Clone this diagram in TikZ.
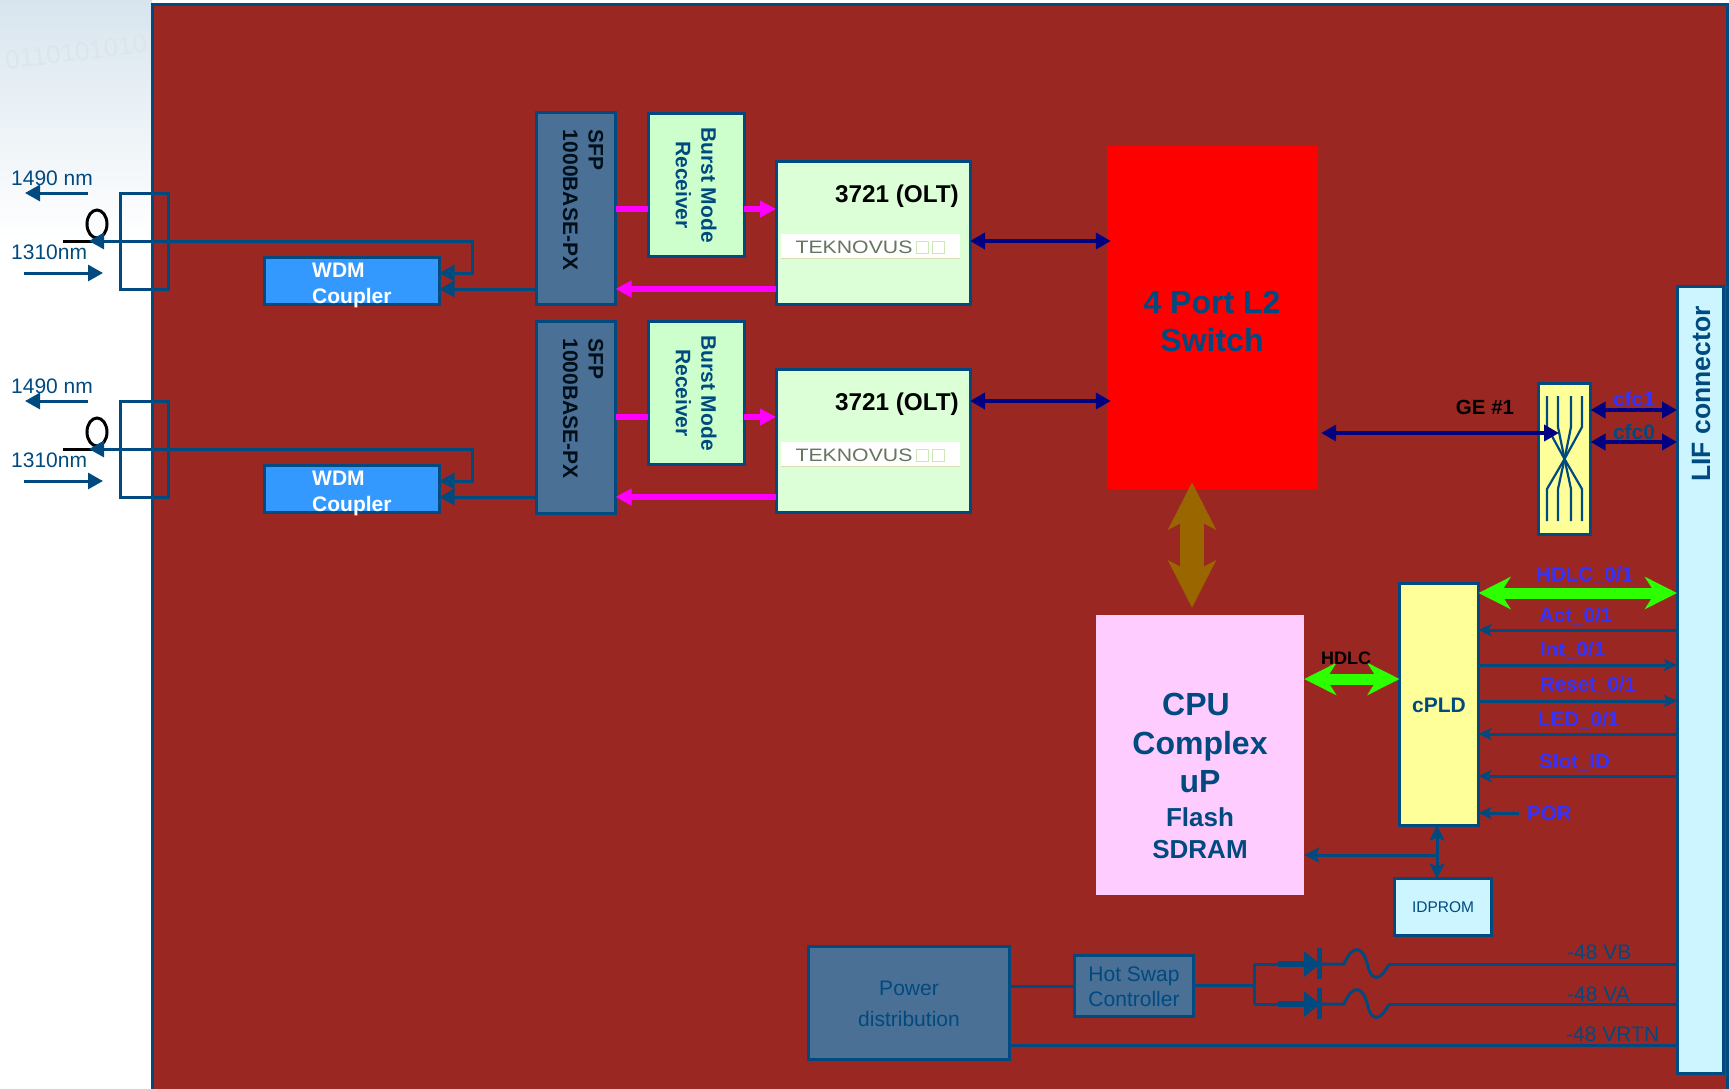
\documentclass[tikz,border=0pt]{standalone}
\usepackage{fontspec}
\setmainfont{Liberation Sans}
\usetikzlibrary{arrows.meta,positioning,shapes}
\definecolor{linkblue}{HTML}{004A80}
\definecolor{boardred}{HTML}{9B2723}
\definecolor{sfpblue}{HTML}{4A7095}
\definecolor{wdmblue}{HTML}{3399FF}
\definecolor{burstgreen}{HTML}{CCFFCC}
\definecolor{oltgreen}{HTML}{DDFFD8}
\definecolor{lifcyan}{HTML}{CCF5FF}
\definecolor{cpldyellow}{HTML}{FFFF99}
\definecolor{cpupink}{HTML}{FFCCFF}
\definecolor{hdlcgreen}{HTML}{2EFF00}
\definecolor{sigblue}{HTML}{3333FF}
\definecolor{busbrown}{HTML}{996600}
\definecolor{busnavy}{HTML}{000080}
\definecolor{pinkbus}{HTML}{FF00FF}
\definecolor{mistblue}{HTML}{D8E5EE}
\definecolor{mistpale}{HTML}{F4F8FC}
\definecolor{bitgrey}{HTML}{DDE5EC}
\definecolor{logogrey}{HTML}{66755F}
\definecolor{logobox}{HTML}{CDE8B8}
\definecolor{logotan}{HTML}{DDD9B0}
\tikzset{
	block/.style = {draw = linkblue, line width = 3pt, inner sep = 0pt, align = center, outer sep = 0pt},
	plain text/.style = {inner sep = 0pt, font = \fontsize{21}{25}\selectfont, text = linkblue, align = center},
	bold text/.style = {inner sep = 0pt, font = \bfseries\fontsize{21}{25.5}\selectfont, text = linkblue, align = center},
	signal label/.style = {bold text, font = \bfseries\fontsize{20.5}{25}\selectfont, text = sigblue, anchor = west},
	wire/.style = {draw = linkblue, line width = 3pt},
	wire tip/.style = {wire, -{Stealth[length = 13pt, width = 12pt, inset = 3pt]}},
	post tip/.style = {wire, -{Stealth[length = 15pt, width = 15pt, inset = 3pt]}},
	fibre tip/.style = {wire, -{Triangle[length = 15pt, width = 16pt]}},
	fibre tips/.style = {wire, {Triangle[length = 15pt, width = 16pt]}-{Triangle[length = 15pt, width = 16pt]}},
	pink bus/.style = {draw = pinkbus, line width = 5.5pt, -{Triangle[length = 16pt, width = 16pt]}},
	navy bus/.style = {draw = busnavy, line width = 4pt, {Triangle[length = 15pt, width = 16pt]}-{Triangle[length = 15pt, width = 16pt]}},
	green bus/.style = {draw = hdlcgreen, line width = 11pt, {Stealth[length = 32pt, width = 32pt, inset = 10pt]}-{Stealth[length = 32pt, width = 32pt, inset = 10pt]}},
	brown bus/.style = {draw = busbrown, line width = 24pt, {Stealth[length = 47pt, width = 47pt, inset = 12pt]}-{Stealth[length = 47pt, width = 47pt, inset = 12pt]}},
	xbar/.style = {draw = linkblue, line width = 2.2pt}
}
\begin{document}
\begin{tikzpicture}[x=1pt,y=-1pt]
	\useasboundingbox (0,0) rectangle (1729,1088);
	% backdrop and board
	\shade [top color = mistblue, middle color = mistpale, bottom color = white] (0,0) rectangle (152,240);
	\node (bits) [rotate = 7, text = bitgrey, font = \fontsize{26}{26}\selectfont, inner sep = 0pt] at (76,52) {0110101010};
	\node (board) [block, fill = boardred, minimum width = 1575, minimum height = 1086, anchor = north west] at (152,4) {};

	% optical side, upper
	\node (lblTxA) [plain text, anchor = west] at (11,178) {1490 nm};
	\node (lblRxA) [plain text, anchor = west] at (11,252) {1310nm};
	\coordinate (txAin) at (88,193);
	\coordinate (txAout) at (25,193);
	\coordinate (rxAin) at (24,273);
	\coordinate (rxAout) at (103,273);
	\draw [fibre tip] (txAin) -- (txAout);
	\draw [fibre tip] (rxAin) -- (rxAout);
	\node (connA) [block, minimum width = 48, minimum height = 96] at (144,241) {};
	\node (loopA) [draw, ellipse, line width = 3pt, minimum width = 20, minimum height = 28, inner sep = 0pt] at (97,224) {};
	\coordinate (pigA) at (63,241);
	\draw [draw = black, line width = 3pt] (pigA) -- (connA.center);
	\node (wdmA) [block, fill = wdmblue, minimum width = 175, minimum height = 47] at (352,281) {};
	\node (wdmAtext) [bold text, text = white, align = left, anchor = west] at (312,285.5) {WDM\\Coupler};
	\node (sfpA) [block, fill = sfpblue, minimum width = 79, minimum height = 192] at (576,208.5) {};
	\node (sfpAtext) [bold text, text = black!80!linkblue, rotate = -90, align = left] at (583,200) {SFP\\1000BASE-PX};
	\coordinate (tapA) at (89,241);
	\coordinate (bendA) at (472,241);
	\draw [fibre tips] (tapA) -- (bendA) |- (wdmA.east |- 0,273);
	\draw [fibre tip] (sfpA.west |- 0,289) -- (wdmA.east |- 0,289);
	\node (burstA) [block, fill = burstgreen, minimum width = 96, minimum height = 143] at (696,185) {};
	\node (burstAtext) [bold text, rotate = -90] at (696,185) {Burst Mode\\Receiver};
	\node (oltA) [block, fill = oltgreen, minimum width = 194, minimum height = 143] at (873,233) {};
	\node (oltAname) [bold text, text = black, font = \bfseries\fontsize{24.3}{28}\selectfont, anchor = east] at (959,196) {3721 (OLT)};
	\node (logoA) [fill = white, minimum width = 179, minimum height = 24, inner sep = 0pt] at (870.5,246) {};
	\draw [draw = logotan, line width = 1pt] (logoA.south west) -- (logoA.south east);
	\node (logoAtext) [inner sep = 0pt, xscale = 1.18, text = logogrey, font = \fontsize{18}{18}\selectfont] at (854,247) {TEKNOVUS};
	\node (logoAbox) [draw = logobox, line width = 1pt, minimum size = 12, inner sep = 0pt] at (922,247) {};
	\node (logoAbix) [draw = logobox, line width = 1pt, minimum size = 12, inner sep = 0pt, right = 3pt of logoAbox] {};
	\draw [pink bus, -] (sfpA.east |- 0,209) -- (burstA.west |- 0,209);
	\draw [pink bus] (burstA.east |- 0,209) -- (oltA.west |- 0,209);
	\draw [pink bus] (oltA.west |- 0,289) -- (sfpA.east |- 0,289);

	% optical side, lower
	\node (lblTxB) [plain text, anchor = west] at (11,386) {1490 nm};
	\node (lblRxB) [plain text, anchor = west] at (11,460) {1310nm};
	\coordinate (txBin) at (88,401);
	\coordinate (txBout) at (25,401);
	\coordinate (rxBin) at (24,481);
	\coordinate (rxBout) at (103,481);
	\draw [fibre tip] (txBin) -- (txBout);
	\draw [fibre tip] (rxBin) -- (rxBout);
	\node (connB) [block, minimum width = 48, minimum height = 96] at (144,449) {};
	\node (loopB) [draw, ellipse, line width = 3pt, minimum width = 20, minimum height = 28, inner sep = 0pt] at (97,432) {};
	\coordinate (pigB) at (63,449);
	\draw [draw = black, line width = 3pt] (pigB) -- (connB.center);
	\node (wdmB) [block, fill = wdmblue, minimum width = 175, minimum height = 47] at (352,489) {};
	\node (wdmBtext) [bold text, text = white, align = left, anchor = west] at (312,493.5) {WDM\\Coupler};
	\node (sfpB) [block, fill = sfpblue, minimum width = 79, minimum height = 192] at (576,417) {};
	\node (sfpBtext) [bold text, text = black!80!linkblue, rotate = -90, align = left] at (583,408.5) {SFP\\1000BASE-PX};
	\coordinate (tapB) at (89,449);
	\coordinate (bendB) at (472,449);
	\draw [fibre tips] (tapB) -- (bendB) |- (wdmB.east |- 0,481);
	\draw [fibre tip] (sfpB.west |- 0,497) -- (wdmB.east |- 0,497);
	\node (burstB) [block, fill = burstgreen, minimum width = 96, minimum height = 143] at (696,393) {};
	\node (burstBtext) [bold text, rotate = -90] at (696,393) {Burst Mode\\Receiver};
	\node (oltB) [block, fill = oltgreen, minimum width = 194, minimum height = 143] at (873,441) {};
	\node (oltBname) [bold text, text = black, font = \bfseries\fontsize{24.3}{28}\selectfont, anchor = east] at (959,404) {3721 (OLT)};
	\node (logoB) [fill = white, minimum width = 179, minimum height = 24, inner sep = 0pt] at (870.5,454) {};
	\draw [draw = logotan, line width = 1pt] (logoB.south west) -- (logoB.south east);
	\node (logoBtext) [inner sep = 0pt, xscale = 1.18, text = logogrey, font = \fontsize{18}{18}\selectfont] at (854,455) {TEKNOVUS};
	\node (logoBbox) [draw = logobox, line width = 1pt, minimum size = 12, inner sep = 0pt] at (922,455) {};
	\node (logoBbix) [draw = logobox, line width = 1pt, minimum size = 12, inner sep = 0pt, right = 3pt of logoBbox] {};
	\draw [pink bus, -] (sfpB.east |- 0,417) -- (burstB.west |- 0,417);
	\draw [pink bus] (burstB.east |- 0,417) -- (oltB.west |- 0,417);
	\draw [pink bus] (oltB.west |- 0,497) -- (sfpB.east |- 0,497);

	% switch and uplinks
	\node (switch) [fill = red, minimum width = 211, minimum height = 343, inner sep = 0pt] at (1212.5,317.5) {};
	\node (switchtext) [bold text, font = \bfseries\fontsize{32}{38}\selectfont] at (1212,321) {4 Port L2\\Switch};
	\draw [navy bus, shorten >= -4pt] (oltA.east |- 0,241) -- (switch.west |- 0,241);
	\draw [navy bus, shorten >= -4pt] (oltB.east |- 0,401) -- (switch.west |- 0,401);

	% cross connect and LIF
	\node (xconn) [block, fill = cpldyellow, minimum width = 52, minimum height = 151] at (1564.5,459) {};
	\coordinate (xmid) at (1564.5,459);
	\draw [xbar] (1547,396) -- (1547,427) -- (xmid) -- (1582,489) -- (1582,521);
	\draw [xbar] (1558,396) -- (1558,427) -- (xmid) -- (1571,489) -- (1571,521);
	\draw [xbar] (1571,396) -- (1571,427) -- (xmid) -- (1558,489) -- (1558,521);
	\draw [xbar] (1582,396) -- (1582,427) -- (xmid) -- (1547,489) -- (1547,521);
	\node (lif) [block, fill = lifcyan, minimum width = 46, minimum height = 787] at (1700,679.5) {};
	\node (liftext) [bold text, font = \bfseries\fontsize{26.5}{30}\selectfont, rotate = 90] at (1701,394) {LIF connector};
	\draw [navy bus, shorten <= 3pt, shorten >= 5.5pt] (switch.east |- 0,433) -- (xmid |- 0,433);
	\draw [navy bus] (xconn.east |- 0,410) -- (lif.west |- 0,410);
	\draw [navy bus] (xconn.east |- 0,442) -- (lif.west |- 0,442);
	\node (ge) [bold text, text = black, font = \bfseries\fontsize{20.5}{24}\selectfont] at (1485,407) {GE \#1};
	\node (cfcb) [bold text, text = sigblue] at (1634,399) {cfc1};
	\node (cfca) [bold text] at (1634,432) {cfc0};

	% CPU and cPLD
	\node (cpu) [fill = cpupink, minimum width = 208, minimum height = 280, inner sep = 0pt] at (1200,755) {};
	\node (cputext) [bold text, font = \bfseries\fontsize{32}{38.5}\selectfont] at (1200,743) {CPU\hspace*{8pt}\\Complex\\uP};
	\node (cpusub) [bold text, font = \bfseries\fontsize{26}{32}\selectfont] at (1200,833) {Flash\\SDRAM};
	\draw [brown bus, shorten <= -7pt, shorten >= 7pt] (switch.south -| 1192,0) -- (cpu.north -| 1192,0);
	\node (cpld) [block, fill = cpldyellow, minimum width = 79, minimum height = 242] at (1439,704.5) {};
	\node (cpldtext) [bold text] at (1439,705) {cPLD};
	\draw [green bus] (cpu.east |- 0,679) -- (cpld.west |- 0,679);
	\node (hdlc) [bold text, text = black, font = \bfseries\fontsize{18}{22}\selectfont] at (1346,658) {HDLC};
	\draw [green bus] (cpld.east |- 0,593) -- (lif.west |- 0,593);
	\node (sighdlc) [signal label] at (1536,575) {HDLC\_0/1};
	\node (sigact) [signal label] at (1539,616) {Act\_0/1};
	\draw [wire tip] (lif.west |- 0,630) -- (cpld.east |- 0,630);
	\node (sigint) [signal label] at (1540,650) {Int\_0/1};
	\draw [wire tip] (cpld.east |- 0,665) -- (lif.west |- 0,665);
	\node (sigreset) [signal label] at (1540,685) {Reset\_0/1};
	\draw [wire tip] (cpld.east |- 0,701) -- (lif.west |- 0,701);
	\node (sigled) [signal label] at (1538,720) {LED\_0/1};
	\draw [wire tip] (lif.west |- 0,734) -- (cpld.east |- 0,734);
	\node (sigslot) [signal label] at (1539,762) {Slot\_ID};
	\draw [wire tip] (lif.west |- 0,776) -- (cpld.east |- 0,776);
	\node (sigpor) [signal label] at (1527,813) {POR};
	\draw [wire tip] (sigpor.west) ++(-8,0) -- (cpld.east |- sigpor.west);
	\node (idprom) [block, fill = lifcyan, minimum width = 97, minimum height = 57] at (1443,907) {};
	\node (idtext) [plain text, font = \fontsize{15.5}{18}\selectfont] at (1443,907) {IDPROM};
	\coordinate (idjoin) at (1437,855);
	\draw [post tip] (idjoin) -- (cpld.south -| idjoin);
	\draw [post tip] (idjoin) -- (idprom.north -| idjoin);
	\draw [post tip] (idjoin) -- (cpu.east |- idjoin);

	% power
	\node (power) [block, fill = sfpblue, minimum width = 201, minimum height = 113] at (909,1003) {};
	\node (powertext) [plain text, font = \fontsize{21}{31}\selectfont] at (909,1004) {Power\\distribution};
	\node (hotswap) [block, fill = sfpblue, minimum width = 119, minimum height = 61] at (1134,986) {};
	\node (hottext) [plain text] at (1134,986.5) {Hot Swap\\Controller};
	\coordinate (orjoin) at (1254,985);
	\coordinate (dioB) at (1304,964);
	\coordinate (dioA) at (1304,1004);
	\coordinate (feedB) at (1389,964);
	\coordinate (feedA) at (1389,1004);
	\draw [wire] (power.east |- 0,986) -- (hotswap.west |- 0,986);
	\draw [wire] (hotswap.east |- orjoin) -- (orjoin);
	\draw [wire] (dioB -| orjoin) -- (dioA -| orjoin);
	\draw [wire] (orjoin |- dioB) -- (dioB);
	\draw [wire] (orjoin |- dioA) -- (dioA);
	\draw [draw = linkblue, line width = 6pt] (1278,964) -- (dioB);
	\draw [draw = linkblue, line width = 6pt] (1278,1004) -- (dioA);
	\fill [linkblue] (dioB) ++(0,-13) -- ++(16,13) -- ++(-16,13) -- cycle;
	\fill [linkblue] (dioA) ++(0,-13) -- ++(16,13) -- ++(-16,13) -- cycle;
	\draw [draw = linkblue, line width = 5pt] (1319,948) -- (1319,979);
	\draw [draw = linkblue, line width = 5pt] (1319,988) -- (1319,1019);
	\draw [wire] (1319,964) -- (1344,964) .. controls (1352,945) and (1362,945) .. (1367,963) .. controls (1371,982) and (1380,982) .. (feedB);
	\draw [wire] (1319,1004) -- (1344,1004) .. controls (1352,985) and (1362,985) .. (1367,1003) .. controls (1371,1022) and (1380,1022) .. (feedA);
	\draw [wire] (feedB) -- (lif.west |- feedB);
	\draw [wire] (feedA) -- (lif.west |- feedA);
	\draw [wire] (power.east |- 0,1045) -- (lif.west |- 0,1045);
	\node (vb) [plain text, anchor = west] at (1567,952) {-48 VB};
	\node (va) [plain text, anchor = west] at (1567,994) {-48 VA};
	\node (vrtn) [plain text, anchor = west] at (1566,1034) {-48 VRTN};
\end{tikzpicture}
\end{document}
